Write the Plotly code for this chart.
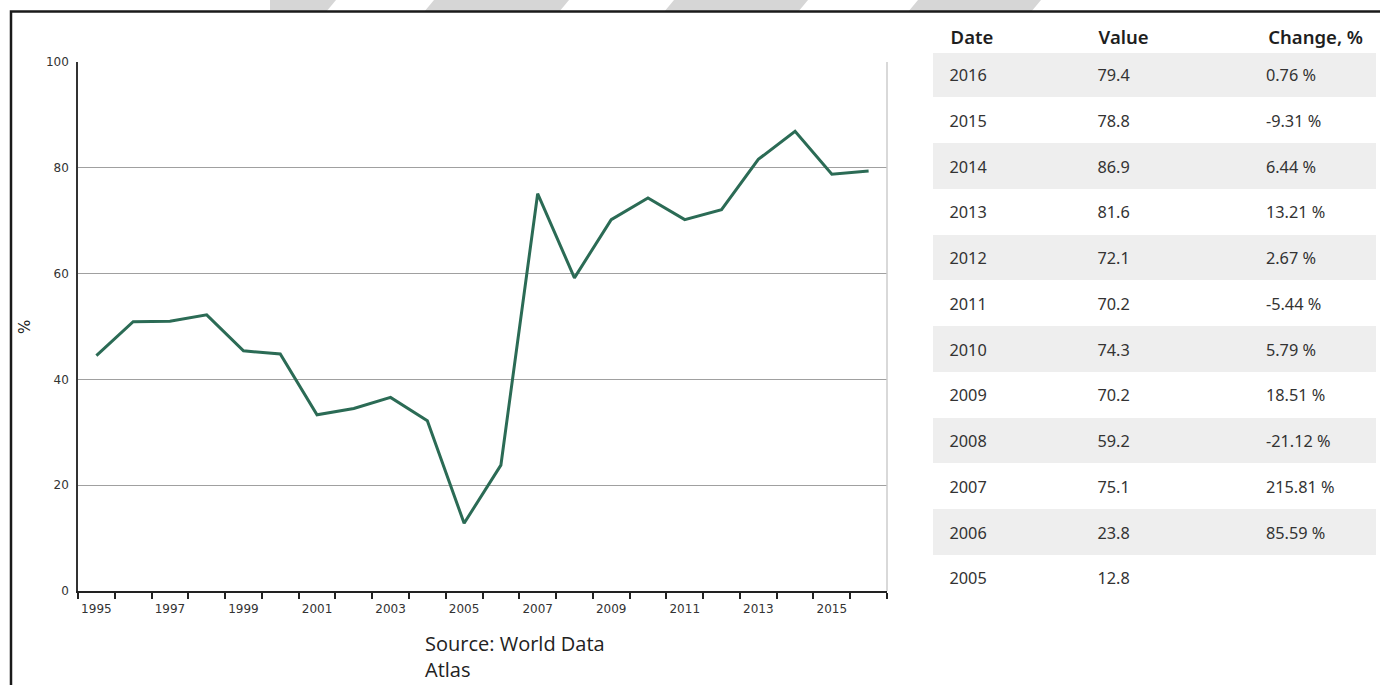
import plotly.graph_objects as go

W, H = 1380, 685

# ---- data ----
years = list(range(1995, 2017))
values = [44.5, 50.9, 51.0, 52.2, 45.4, 44.8, 33.3, 34.5, 36.6, 32.2,
          12.8, 23.8, 75.1, 59.2, 70.2, 74.3, 70.2, 72.1, 81.6, 86.9, 78.8, 79.4]

table_dates = [2016, 2015, 2014, 2013, 2012, 2011, 2010, 2009, 2008, 2007, 2006, 2005]
table_values = ["79.4", "78.8", "86.9", "81.6", "72.1", "70.2", "74.3", "70.2", "59.2", "75.1", "23.8", "12.8"]
table_change = ["0.76 %", "-9.31 %", "6.44 %", "13.21 %", "2.67 %", "-5.44 %", "5.79 %",
                "18.51 %", "-21.12 %", "215.81 %", "85.59 %", ""]
table_header = ["Date", "Value", "Change, %"]

xtick_labels = list(range(1995, 2016, 2))
ytick_vals = [0, 20, 40, 60, 80, 100]


def px(x):
    return x / W


def py(y):
    return 1 - y / H


fig = go.Figure()

fig.add_trace(go.Scatter(
    x=years, y=values, mode="lines",
    line=dict(color="#2b6b55", width=3),
    hoverinfo="skip", showlegend=False,
))

n = len(table_dates)
row_fill = ["#eeeeee" if i % 2 == 0 else "#ffffff" for i in range(n)]
colw = [148, 160, 134]

# table: header text and row backgrounds
fig.add_trace(go.Table(
    domain=dict(x=[px(933), px(1375)], y=[py(601), py(22)]),
    columnwidth=colw,
    header=dict(
        values=table_header,
        align="left",
        height=30,
        fill_color="#ffffff",
        line_color="#ffffff",
        prefix="\u00a0\u00a0",
        font=dict(family="Noto Sans", size=18.5, color="#1e1e1e", weight=600),
    ),
    cells=dict(
        values=[[""] * n, [""] * n, [""] * n],
        align="left",
        height=45.75,
        fill_color=[row_fill, row_fill, row_fill],
        line_color=[row_fill, row_fill, row_fill],
    ),
))

# table: body text (vertically centred in the rows)
fig.add_trace(go.Table(
    domain=dict(x=[px(933), px(1375)], y=[py(615), py(22)]),
    columnwidth=colw,
    header=dict(
        values=["", "", ""],
        height=39,
        fill_color="rgba(0,0,0,0)",
        line_color="rgba(0,0,0,0)",
    ),
    cells=dict(
        values=[[str(d) for d in table_dates], table_values, table_change],
        align="left",
        height=45.75,
        fill_color="rgba(0,0,0,0)",
        line_color="rgba(0,0,0,0)",
        prefix="\u00a0\u00a0",
        font=dict(family="Noto Sans", size=16.3, color="#333333"),
    ),
))

fig.update_layout(
    width=W, height=H,
    margin=dict(l=0, r=0, t=0, b=0),
    paper_bgcolor="#ffffff",
    plot_bgcolor="#ffffff",
    showlegend=False,
    xaxis=dict(
        domain=[px(78), px(887)],
        range=[1994.5, 2016.5],
        tickmode="array",
        tickvals=xtick_labels,
        ticktext=[str(v) for v in xtick_labels],
        ticks="",
        minor=dict(tickmode="array", tickvals=[y - 0.5 for y in years] + [years[-1] + 0.5],
                   ticks="outside", ticklen=6, tickwidth=1.5, tickcolor="#222222",
                   showgrid=False),
        showline=True, linecolor="#222222", linewidth=2,
        showgrid=False, zeroline=False,
        tickfont=dict(family="DejaVu Sans", size=12, color="#333333"),
        ticklabelstandoff=6,
        automargin=False,
        fixedrange=True,
    ),
    yaxis=dict(
        domain=[py(591), py(62)],
        range=[0, 100],
        tickmode="array",
        tickvals=ytick_vals,
        ticks="",
        showline=True, linecolor="#333333", linewidth=1.5,
        showgrid=True, gridcolor="#a0a0a0", gridwidth=1.3,
        zeroline=False,
        tickfont=dict(family="DejaVu Sans", size=12, color="#333333"),
        ticklabelstandoff=5,
        automargin=False,
        fixedrange=True,
    ),
)

shapes = []
# right light border of plot area
shapes.append(dict(type="line", xref="x domain", yref="y domain", x0=1, x1=1, y0=0, y1=1,
                   line=dict(color="#cccccc", width=1.5)))
# decorative diagonal stripes at top
stripes = [
    [(270, 12), (270, 0), (336, 0), (326, 12)],
    [(424, 12), (434, 0), (569, 0), (559, 12)],
    [(664, 12), (674, 0), (808, 0), (798, 12)],
    [(908, 12), (918, 0), (1041, 0), (1031, 12)],
]
for pts in stripes:
    path = "M " + " L ".join(f"{px(a):.5f},{py(b):.5f}" for a, b in pts) + " Z"
    shapes.append(dict(type="path", xref="paper", yref="paper", path=path,
                       fillcolor="#d6d6d6", line=dict(width=0), layer="below"))
# outer frame
frame = f"M {px(11):.5f},{py(690):.5f} L {px(11):.5f},{py(11.5):.5f} L {px(1385):.5f},{py(11.5):.5f}"
shapes.append(dict(type="path", xref="paper", yref="paper", path=frame,
                   line=dict(color="#1a1a1a", width=2.5)))
fig.update_layout(shapes=shapes)

# y-axis title
fig.add_annotation(
    xref="paper", yref="paper", x=px(25), y=py(327), xanchor="center", yanchor="middle",
    text="%", textangle=-90, showarrow=False,
    font=dict(family="DejaVu Sans", size=15, color="#222222"),
)

fig.add_annotation(
    xref="paper", yref="paper", x=px(423), y=py(628), xanchor="left", yanchor="top",
    text="Source: World Data<br>Atlas", showarrow=False, align="left",
    font=dict(family="Open Sans", size=20, color="#222222"),
)

fig.write_html("out.html")
